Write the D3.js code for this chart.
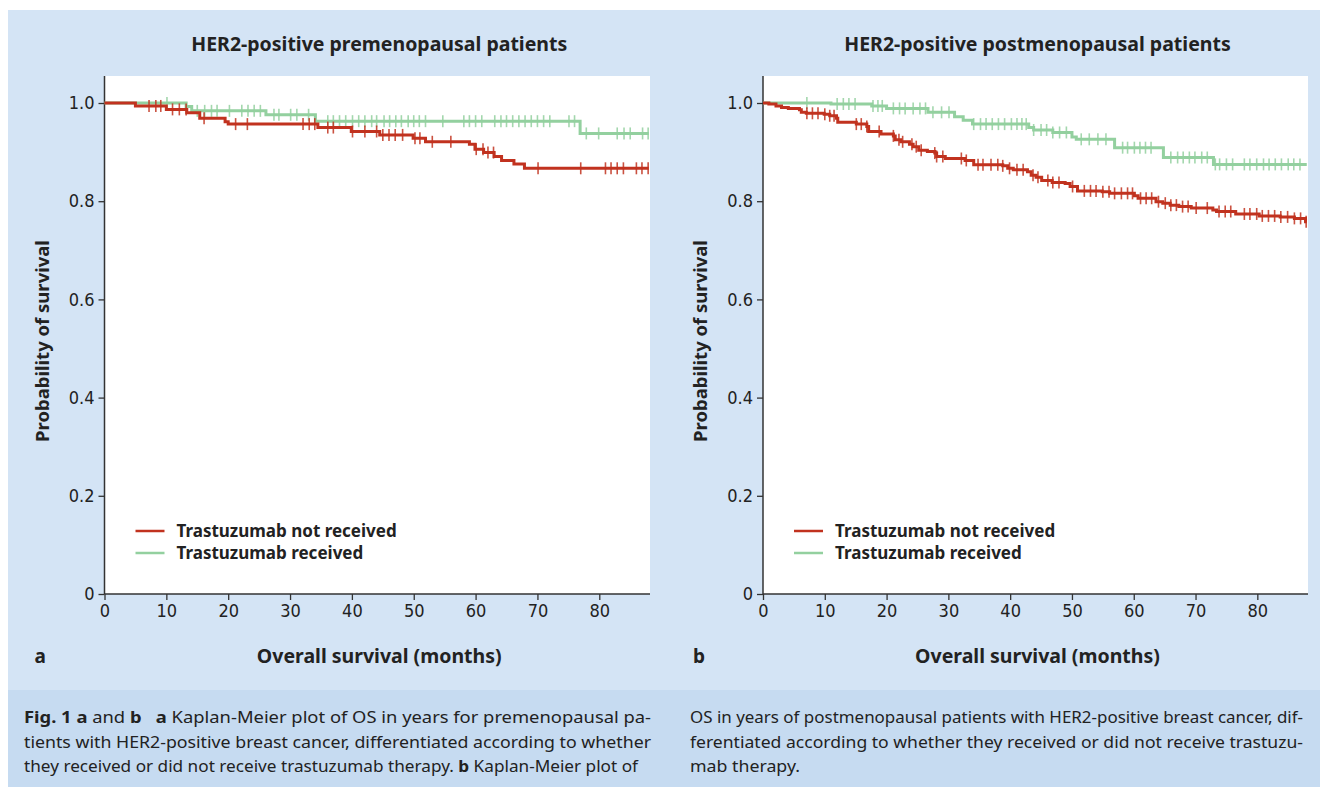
<!DOCTYPE html>
<html>
<head>
<meta charset="utf-8">
<script src="https://cdn.jsdelivr.net/npm/d3@7"></script>
<style>
  body { margin: 0; background: #fff; }
  svg { display: block; }
  .tick text { font-family: "DejaVu Sans Condensed", "DejaVu Sans", sans-serif; font-size: 18px; fill: #222; }
  .bold { font-family: "Noto Sans", "Open Sans", sans-serif; font-weight: bold; fill: #222; }
  .cap { font-family: "Noto Sans", "Open Sans", sans-serif; font-size: 16.5px; fill: #222; }
</style>
</head>
<body>
<svg id="chart"></svg>
<script>
const width = 1320;
const height = 787;

const monthTicks = [0, 10, 20, 30, 40, 50, 60, 70, 80];
const survTicks = [0, 0.2, 0.4, 0.6, 0.8, 1.0];
const survTickLabels = ["0", "0.2", "0.4", "0.6", "0.8", "1.0"];
const seriesNames = ["Trastuzumab not received", "Trastuzumab received"];

// panel a: premenopausal
const preNotTimes = [0, 5.0, 10.0, 13.3, 15.4, 19.5, 20.0, 34.5, 39.9, 44.5, 49.9, 51.9, 59.0, 59.9, 61.3, 63.0, 64.2, 66.2, 67.9];
const preNotSurv  = [1, 0.994, 0.987, 0.980, 0.969, 0.962, 0.957, 0.950, 0.942, 0.935, 0.928, 0.921, 0.916, 0.906, 0.899, 0.891, 0.883, 0.876, 0.867];
const preNotCensored = [7.2, 8.3, 9.1, 11.0, 12.1, 13.2, 16.1, 21.2, 23.1, 32.1, 33.1, 34.0, 36.1, 37.0, 40.1, 42.1, 44.0, 45.0, 46.0, 47.0, 48.2, 50.2, 51.0, 53.0, 56.0, 60.1, 61.2, 62.0, 62.9, 70.1, 77.0, 81.0, 81.9, 82.9, 83.9, 86.0, 86.9, 87.9];

const preRecTimes = [0, 13.2, 14.1, 26.1, 34.1, 76.9];
const preRecSurv  = [1, 0.993, 0.984, 0.976, 0.963, 0.938];
const preRecCensored = [10.1, 15.0, 16.2, 17.3, 18.2, 20.2, 22.2, 23.2, 24.2, 25.2, 27.4, 28.2, 30.1, 31.1, 33.0, 36.1, 37.0, 38.0, 39.0, 40.1, 41.1, 42.1, 43.2, 44.0, 45.2, 46.1, 47.1, 48.0, 49.1, 50.0, 50.9, 51.9, 54.7, 58.1, 59.0, 60.0, 61.0, 63.1, 64.1, 65.0, 66.0, 67.0, 68.0, 69.0, 70.0, 71.0, 72.0, 75.1, 76.0, 77.9, 79.9, 82.9, 84.0, 85.0, 87.0, 87.9];

// panel b: postmenopausal
const postNotTimes = [0, 0.95, 2.1, 3.0, 4.1, 5.9, 6.2, 7.0, 9.9, 10.8, 11.9, 12.1, 15.1, 16.8, 17.1, 19.1, 21.1, 21.4, 22.3, 23.7, 24.3, 25.2, 26.6, 27.8, 28.1, 29.5, 32.7, 34.1, 38.8, 39.6, 40.5, 42.8, 43.4, 44.2, 45.1, 46.8, 48.9, 49.7, 50.9, 54.9, 56.1, 60.1, 60.7, 63.6, 64.7, 65.9, 67.3, 69.3, 72.8, 73.4, 76.5, 80.3, 83.7, 86.0, 87.8];
const postNotSurv  = [1, 0.998, 0.994, 0.991, 0.989, 0.986, 0.981, 0.979, 0.977, 0.974, 0.969, 0.961, 0.957, 0.952, 0.942, 0.937, 0.933, 0.925, 0.921, 0.916, 0.911, 0.904, 0.901, 0.898, 0.891, 0.887, 0.883, 0.874, 0.872, 0.867, 0.864, 0.860, 0.853, 0.849, 0.842, 0.838, 0.836, 0.830, 0.821, 0.819, 0.816, 0.811, 0.806, 0.799, 0.796, 0.792, 0.789, 0.786, 0.782, 0.779, 0.774, 0.770, 0.768, 0.765, 0.758];
const postNotCensored = [7.1, 8.0, 8.9, 10.0, 10.8, 11.5, 15.1, 15.9, 16.8, 18.8, 21.1, 22.0, 22.6, 24.1, 24.8, 25.6, 27.8, 28.1, 29.1, 32.1, 32.9, 34.8, 35.6, 36.9, 38.0, 38.8, 39.9, 41.1, 42.1, 43.7, 44.5, 46.1, 46.9, 47.9, 50.1, 52.0, 53.0, 53.9, 55.0, 56.0, 56.9, 58.0, 59.0, 59.8, 61.1, 62.0, 62.9, 64.0, 65.1, 66.0, 66.9, 67.9, 68.8, 70.1, 71.9, 73.8, 74.8, 75.7, 77.9, 78.8, 79.9, 80.8, 81.8, 82.8, 83.8, 84.9, 86.0, 87.0, 87.9];

const postRecTimes = [0, 11.0, 17.6, 20.0, 26.7, 31.0, 32.4, 33.9, 43.0, 43.8, 46.9, 50.0, 50.7, 56.9, 64.8, 72.9];
const postRecSurv  = [1, 0.998, 0.994, 0.989, 0.981, 0.972, 0.965, 0.957, 0.950, 0.945, 0.940, 0.931, 0.926, 0.909, 0.889, 0.875];
const postRecCensored = [7.1, 12.0, 13.0, 13.9, 14.9, 17.8, 18.6, 19.3, 21.1, 22.1, 23.0, 24.3, 25.4, 26.3, 27.5, 28.9, 30.1, 34.1, 35.2, 36.1, 37.1, 38.1, 39.1, 40.2, 41.1, 41.9, 42.6, 43.8, 45.0, 45.9, 46.9, 48.0, 49.1, 51.5, 52.8, 54.2, 55.5, 58.2, 59.0, 60.1, 61.0, 61.9, 62.8, 66.0, 67.1, 68.0, 69.0, 69.9, 71.0, 71.9, 73.2, 73.9, 75.0, 76.0, 77.9, 78.8, 79.9, 81.0, 81.9, 82.9, 83.9, 85.0, 85.9, 86.9];

const red = "#c1321f";
const green = "#93d09f";
const maxMonth = 88.2;

const svg = d3.select("#chart")
    .attr("width", width)
    .attr("height", height);

// backgrounds
svg.append("rect").attr("x", 8).attr("y", 10).attr("width", width - 8).attr("height", 680).attr("fill", "#d4e4f5");
svg.append("rect").attr("x", 8).attr("y", 690).attr("width", width - 8).attr("height", 97).attr("fill", "#c6dbf1");

function drawPanel(left, right, title, letter, series) {
    const top = 76, bottom = 594;
    const x = d3.scaleLinear().domain([0, maxMonth]).range([left, right]);
    const y = d3.scaleLinear().domain([0, 1]).range([bottom, 103]);
    const cx = (left + right) / 2;

    svg.append("rect")
        .attr("x", left).attr("y", top)
        .attr("width", right - left).attr("height", bottom - top)
        .attr("fill", "#fff");

    svg.append("text").attr("class", "bold")
        .attr("x", cx + 2).attr("y", 51)
        .attr("text-anchor", "middle")
        .style("font-size", "19.5px")
        .text(title);

    const xAxis = svg.append("g")
        .attr("transform", `translate(0, ${bottom})`)
        .call(d3.axisBottom(x).tickValues(monthTicks).tickSize(6).tickPadding(4).tickSizeOuter(0));
    const yAxis = svg.append("g")
        .attr("transform", `translate(${left}, 0)`)
        .call(d3.axisLeft(y).tickValues(survTicks).tickFormat((d, i) => survTickLabels[i]).tickSize(6).tickPadding(4).tickSizeOuter(0));
    [xAxis, yAxis].forEach(g => {
        g.select(".domain").attr("stroke", "#333").attr("stroke-width", 1.5);
        g.selectAll(".tick line").attr("stroke", "#333").attr("stroke-width", 1.3);
    });
    yAxis.select(".domain").attr("d", `M0,${top}V${bottom}`);
    xAxis.select(".domain").attr("d", `M${left},0H${right}`);

    svg.append("text").attr("class", "bold")
        .attr("transform", `translate(${left - 56}, 341) rotate(-90)`)
        .attr("text-anchor", "middle")
        .style("font-size", "18.5px")
        .text("Probability of survival");

    svg.append("text").attr("class", "bold")
        .attr("x", cx + 2).attr("y", 663)
        .attr("text-anchor", "middle")
        .style("font-size", "19.5px")
        .text("Overall survival (months)");

    svg.append("text").attr("class", "bold")
        .attr("x", left - 70).attr("y", 663)
        .style("font-size", "19px")
        .text(letter);

    const line = d3.line()
        .x(d => x(d[0]))
        .y(d => y(d[1]))
        .curve(d3.curveStepAfter);

    // draw received (green) first, then not received (red) on top
    series.slice().reverse().forEach(s => {
        const pts = s.times.map((t, i) => [t, s.surv[i]]);
        pts.push([maxMonth - 0.2, s.surv[s.surv.length - 1]]);
        svg.append("path")
            .datum(pts)
            .attr("fill", "none")
            .attr("stroke", s.color)
            .attr("stroke-width", 3)
            .attr("d", line);

        svg.selectAll(null)
            .data(s.censored)
            .enter()
            .append("line")
            .attr("x1", d => x(d)).attr("x2", d => x(d))
            .attr("y1", d => y(s.surv[d3.bisectRight(s.times, d) - 1]) - 6)
            .attr("y2", d => y(s.surv[d3.bisectRight(s.times, d) - 1]) + 6)
            .attr("stroke", s.color)
            .attr("stroke-opacity", 0.85)
            .attr("stroke-width", 1.6);
    });

    // legend
    series.forEach((s, i) => {
        const ly = 531 + i * 22;
        svg.append("line")
            .attr("x1", left + 31).attr("x2", left + 60)
            .attr("y1", ly).attr("y2", ly)
            .attr("stroke", s.color).attr("stroke-width", 2.5);
        svg.append("text").attr("class", "bold")
            .attr("x", left + 72).attr("y", ly + 6)
            .style("font-size", "17px")
            .text(s.name);
    });
}

drawPanel(104.5, 650, "HER2-positive premenopausal patients", "a", [
    { name: seriesNames[0], color: red, times: preNotTimes, surv: preNotSurv, censored: preNotCensored },
    { name: seriesNames[1], color: green, times: preRecTimes, surv: preRecSurv, censored: preRecCensored }
]);

drawPanel(763, 1308, "HER2-positive postmenopausal patients", "b", [
    { name: seriesNames[0], color: red, times: postNotTimes, surv: postNotSurv, censored: postNotCensored },
    { name: seriesNames[1], color: green, times: postRecTimes, surv: postRecSurv, censored: postRecCensored }
]);

// caption
const captionLines = [
    { x: 24, y: 723, len: 627, parts: [["Fig. 1 a", true], [" and ", false], ["b", true], ["   ", false], ["a", true], [" Kaplan-Meier plot of OS in years for premenopausal pa-", false]] },
    { x: 24, y: 748, len: 627, parts: [["tients with HER2-positive breast cancer, differentiated according to whether", false]] },
    { x: 24, y: 772, len: 614, parts: [["they received or did not receive trastuzumab therapy. ", false], ["b", true], [" Kaplan-Meier plot of", false]] },
    { x: 690, y: 723, len: 613, parts: [["OS in years of postmenopausal patients with HER2-positive breast cancer, dif-", false]] },
    { x: 690, y: 748, len: 613, parts: [["ferentiated according to whether they received or did not receive trastuzu-", false]] },
    { x: 690, y: 772, len: 110, parts: [["mab therapy.", false]] }
];

captionLines.forEach(l => {
    const t = svg.append("text")
        .attr("class", "cap")
        .attr("x", l.x).attr("y", l.y)
        .attr("xml:space", "preserve")
        .attr("textLength", l.len)
        .attr("lengthAdjust", "spacingAndGlyphs");
    l.parts.forEach(p => {
        t.append("tspan")
            .style("font-weight", p[1] ? "bold" : "normal")
            .text(p[0]);
    });
});
</script>
</body>
</html>
